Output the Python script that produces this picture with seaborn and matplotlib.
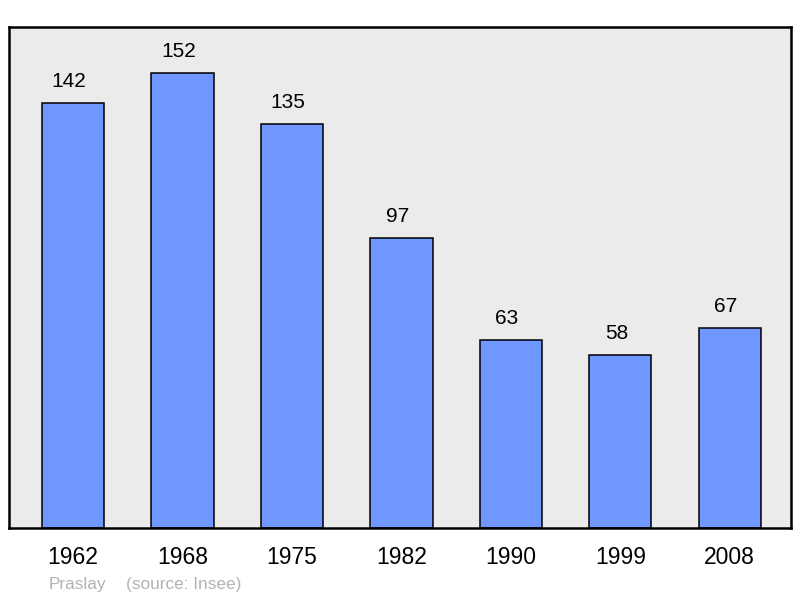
import matplotlib
matplotlib.use('Agg')
import matplotlib.pyplot as plt
import seaborn as sns
import pandas as pd

# population of Praslay by census year
years = ['1962', '1968', '1975', '1982', '1990', '1999', '2008']
population = [142, 152, 135, 97, 63, 58, 67]

df = pd.DataFrame({'year': years, 'pop': population})

sns.set_style('white')
plt.rcParams['font.family'] = ['Liberation Sans', 'DejaVu Sans']
plt.rcParams['text.color'] = 'black'
plt.rcParams['xtick.color'] = 'black'

fig = plt.figure(figsize=(8, 5.98), dpi=100)
ax = fig.add_axes([9 / 800, 70 / 598, 782 / 800, 501 / 598])
ax.set_facecolor('#ebebeb')

sns.barplot(data=df, x='year', y='pop', color='#7097ff', saturation=1,
            width=0.57, edgecolor='black', linewidth=1.1, ax=ax)

for i, v in enumerate(population):
    ax.text(i - 0.035, v + 4, str(v), ha='center', va='bottom', fontsize=15)

ax.set_xlim(-0.585, 6.56)
ax.set_ylim(0, 167.5)
ax.set_yticks([])
ax.set_xlabel('')
ax.set_ylabel('')
ax.tick_params(axis='x', length=0, labelsize=16.5, pad=13)
for s in ax.spines.values():
    s.set_visible(True)
    s.set_color('black')
    s.set_linewidth(1.8)

fig.text(49 / 800, 1 - 584 / 598, 'Praslay', color='#b3b3b3',
         fontsize=12.4, ha='left', va='center')
fig.text(126 / 800, 1 - 584 / 598, '(source: Insee)', color='#b3b3b3',
         fontsize=12.4, ha='left', va='center')

fig.savefig('out.png', dpi=100)
